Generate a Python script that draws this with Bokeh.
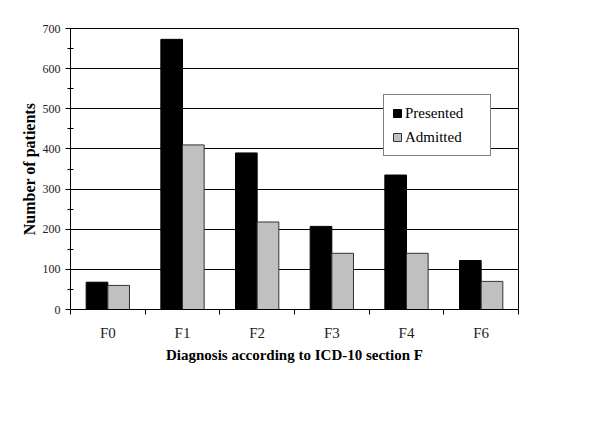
from bokeh.plotting import figure
from bokeh.models import Range1d, FixedTicker, ColumnDataSource, Legend, LegendItem
from bokeh.transform import dodge
from bokeh.embed import file_html
from bokeh.resources import INLINE

categories = ["F0", "F1", "F2", "F3", "F4", "F6"]
presented = [68, 673, 390, 207, 335, 122]
admitted = [60, 410, 218, 140, 140, 70]
y_ticks = [0, 100, 200, 300, 400, 500, 600, 700]

FONT = "Liberation Serif"

xpos = [i + 0.5 for i in range(len(categories))]
src = ColumnDataSource(dict(x=xpos, cat=categories, presented=presented, admitted=admitted))

p = figure(width=592, height=408, output_backend="svg", toolbar_location=None,
           x_range=Range1d(0, len(categories)), y_range=Range1d(0, 700),
           min_border_left=70, min_border_right=74, min_border_top=28, min_border_bottom=99)

r1 = p.vbar(x=dodge("x", -0.145, range=p.x_range), top="presented", width=0.29, source=src,
            fill_color="black", line_color="black", line_width=1)
r2 = p.vbar(x=dodge("x", 0.145, range=p.x_range), top="admitted", width=0.29, source=src,
            fill_color="#c0c0c0", line_color="#333333", line_width=1)

p.outline_line_color = "black"
p.outline_line_width = 1
p.background_fill_color = "white"
p.border_fill_color = "white"

p.xgrid.grid_line_color = None
p.ygrid.grid_line_color = "black"
p.ygrid.grid_line_width = 1
p.ygrid.ticker = FixedTicker(ticks=y_ticks)

# y axis
ya = p.yaxis[0]
ya.ticker = FixedTicker(ticks=y_ticks, minor_ticks=[v + 50 for v in y_ticks[:-1]])
ya.axis_line_color = "black"
ya.major_tick_line_color = "black"
ya.major_tick_out = 5
ya.major_tick_in = 0
ya.minor_tick_line_color = "black"
ya.minor_tick_out = 3
ya.minor_tick_in = 3
ya.major_label_text_font = FONT
ya.major_label_text_font_size = "12px"
ya.major_label_text_color = "#222222"
ya.major_label_standoff = 5
ya.axis_label = "Number of patients"
ya.axis_label_text_font = FONT
ya.axis_label_text_font_size = "16px"
ya.axis_label_text_font_style = "bold"
ya.axis_label_text_color = "black"
ya.axis_label_standoff = 2

# x axis
xa = p.xaxis[0]
xa.ticker = FixedTicker(ticks=xpos, minor_ticks=list(range(len(categories) + 1)))
xa.major_label_overrides = {x: c for x, c in zip(xpos, categories)}
xa.axis_line_color = "black"
xa.major_tick_line_color = None
xa.major_tick_out = 5
xa.major_tick_in = 0
xa.minor_tick_line_color = "black"
xa.minor_tick_out = 5
xa.minor_tick_in = 0
xa.major_label_text_font = FONT
xa.major_label_text_font_size = "15px"
xa.major_label_text_color = "#222222"
xa.major_label_standoff = 10
xa.axis_label = "Diagnosis according to ICD-10 section F"
xa.axis_label_text_font = FONT
xa.axis_label_text_font_size = "15px"
xa.axis_label_text_font_style = "bold"
xa.axis_label_text_color = "black"
xa.axis_label_standoff = 3

legend = Legend(items=[LegendItem(label="Presented", renderers=[r1]),
                       LegendItem(label="Admitted", renderers=[r2])],
                location=(313, 153))
legend.border_line_color = "black"
legend.border_line_width = 1
legend.background_fill_alpha = 1
legend.label_text_font = FONT
legend.label_text_font_size = "15px"
legend.label_text_color = "black"
legend.glyph_width = 10
legend.glyph_height = 10
legend.label_standoff = 3
legend.label_height = 20
legend.label_width = 77
legend.padding = 8
legend.spacing = 4
legend.margin = 0
p.add_layout(legend)

open("out.html", "w").write(file_html(p, INLINE))
